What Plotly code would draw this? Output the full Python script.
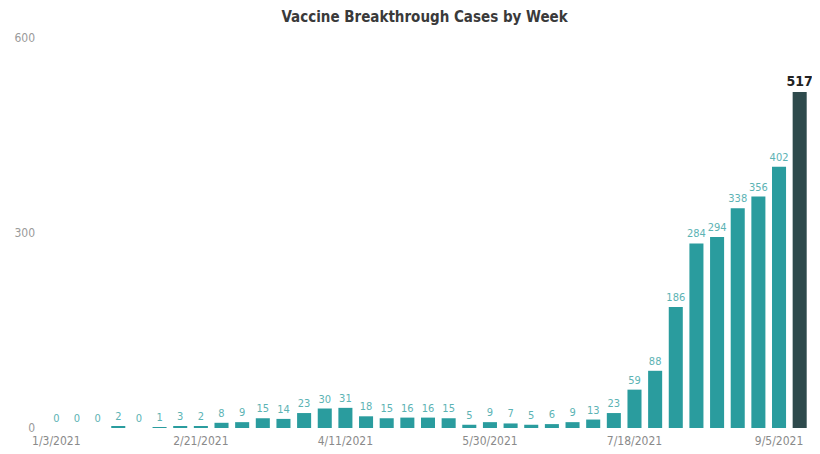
import plotly.graph_objects as go
import pandas as pd

weeks = [d.strftime("%Y-%m-%d") for d in pd.date_range("2021-01-03", "2021-09-12", freq="7D")]
cases = [0, 0, 0, 2, 0, 1, 3, 2, 8, 9, 15, 14, 23, 30, 31, 18, 15, 16, 16, 15,
         5, 9, 7, 5, 6, 9, 13, 23, 59, 88, 186, 284, 294, 338, 356, 402, 517]
tick_dates = ["2021-01-03", "2021-02-21", "2021-04-11", "2021-05-30", "2021-07-18", "2021-09-05"]
tick_labels = ["1/3/2021", "2/21/2021", "4/11/2021", "5/30/2021", "7/18/2021", "9/5/2021"]
y_ticks = [0, 300, 600]

teal = "#2a9c9e"
dark = "#2e4a4c"
label_teal = "#5cb3b4"
n = len(cases)
bar_colors = [teal] * (n - 1) + [dark]
text_colors = [label_teal] * (n - 1) + ["#222222"]
texts = [str(v) for v in cases[:-1]] + ["<b>%d</b>" % cases[-1]]
text_sizes = [11] * (n - 1) + [14]

fig = go.Figure(go.Bar(
    x=weeks, y=cases,
    marker=dict(color=bar_colors, line=dict(width=0)),
    text=texts, textposition="outside", cliponaxis=False, constraintext="none",
    textfont=dict(color=text_colors, size=text_sizes, family="DejaVu Sans Condensed, sans-serif"),
))

# The page body adds an 8px offset, so the figure is sized to fill the rest of the window.
fig.update_layout(
    width=812, height=446,
    margin=dict(l=38, r=10, t=30, b=26, autoexpand=False),
    paper_bgcolor="white", plot_bgcolor="white",
    bargap=0.32,
    showlegend=False,
    title=dict(text="<b>Vaccine Breakthrough Cases by Week</b>", x=0.513, xanchor="center",
               y=0.98, yanchor="middle", automargin=False,
               font=dict(size=15, color="#3a3a3a", family="DejaVu Sans Condensed, sans-serif")),
    xaxis=dict(type="date", tickvals=tick_dates, ticktext=tick_labels, automargin=False,
               range=["2020-12-30 12:00", "2021-09-15 12:00"], ticklabelstandoff=4,
               showgrid=False, zeroline=False, showline=False, ticks="",
               tickfont=dict(size=12, color="#8a8a8a", family="DejaVu Sans Condensed, sans-serif")),
    yaxis=dict(range=[0, 600], tickvals=y_ticks, showgrid=False, zeroline=False, showline=False,
               ticks="", ticklen=0, automargin=False, ticklabelstandoff=10,
               tickfont=dict(size=12, color="#9a9a9a", family="DejaVu Sans Condensed, sans-serif")),
)

fig.write_html("out.html")
